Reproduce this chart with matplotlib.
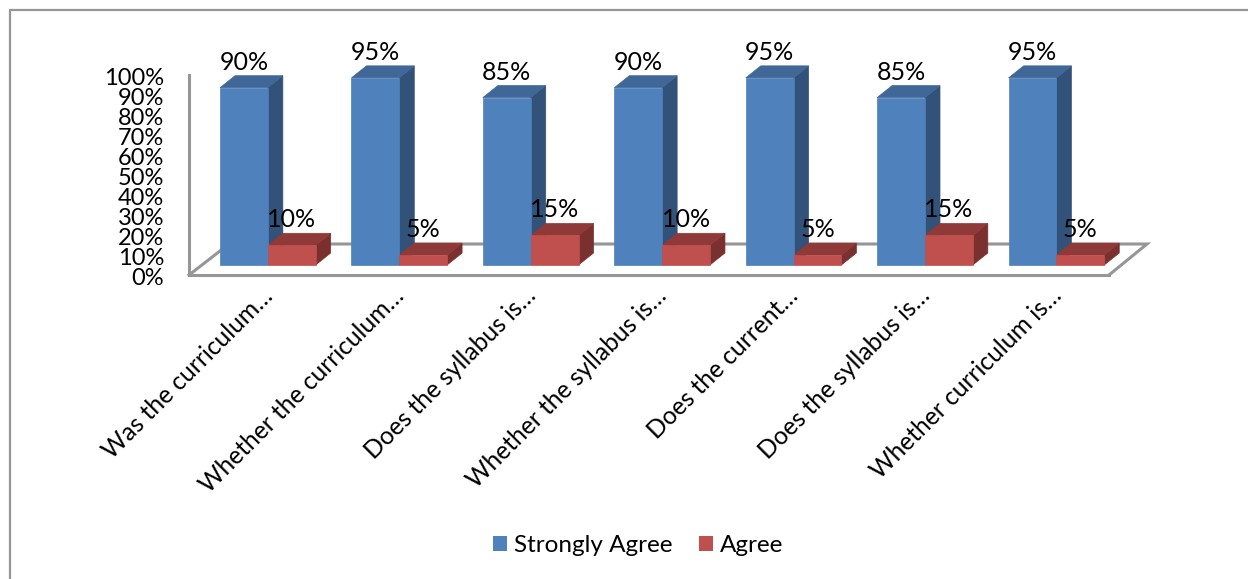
import matplotlib

matplotlib.use("Agg")
import matplotlib.pyplot as plt
from matplotlib.lines import Line2D
from matplotlib.patches import Polygon, Patch
from matplotlib.transforms import ScaledTranslation

categories = [
    "Was the curriculum…",
    "Whether the curriculum…",
    "Does the syllabus is…",
    "Whether the syllabus is…",
    "Does the current…",
    "Does the syllabus is…",
    "Whether curriculum is…",
]
strongly_agree = [90, 95, 85, 90, 95, 85, 95]
agree = [10, 5, 15, 10, 5, 15, 5]
y_ticks = list(range(0, 101, 10))

W, H = 1248, 579
plt.rcParams["font.family"] = ["Lato", "DejaVu Sans"]

fig = plt.figure(figsize=(W / 100, H / 100), dpi=100)
# axes box is the front edge of the chart floor
ax = fig.add_axes([189 / W, 1 - 275 / H, 920 / W, 200 / H])
ax.set_xlim(-0.5, 6.5)
ax.set_ylim(0, 100)
ax.patch.set_alpha(0)
for s in ax.spines.values():
    s.set_visible(False)

# fake 3d depth, in data units
dx = 15 / 131.4
dy = 6
base = 5
bar_w = 47.8 / 131.4
shift = 0.1
# bars sit on a slightly shorter scale than the front axis
bar_scale = 0.985
grey = "#969696"

# floor and wall lines
floor_kw = dict(color=grey, lw=2.2, clip_on=False, zorder=1, solid_joinstyle="miter")
ax.plot([-0.5, -0.5], [0, 100], **floor_kw)
ax.plot([-0.5, 6.5], [0, 0], **floor_kw)
ax.plot([-0.5, -0.5 + 40 / 131.4, 6.5 + 38 / 131.4, 6.5],
        [0, 15.5, 15.5, 0], **floor_kw)


def bar3d(x, val, front, top, side, label):
    y0, y1 = base, base + val * bar_scale
    x1 = x + bar_w
    ax.add_patch(Polygon([(x1, y0), (x1 + dx, y0 + dy), (x1 + dx, y1 + dy), (x1, y1)],
                         fc=side, ec=side, lw=0.5, clip_on=False, zorder=3))
    ax.add_patch(Polygon([(x, y1), (x + dx, y1 + dy), (x1 + dx, y1 + dy), (x1, y1)],
                         fc=top, ec=top, lw=0.5, clip_on=False, zorder=3))
    ax.add_patch(Polygon([(x, y0), (x1, y0), (x1, y1), (x, y1)],
                         fc=front, ec=front, lw=0.5, clip_on=False, zorder=4))
    ax.text(x + bar_w / 2, y1 + dy + 1, label, ha="center", va="bottom",
            fontsize=18, color="black", zorder=6, clip_on=False)


for i in range(len(categories)):
    left = i + shift - bar_w
    bar3d(left, strongly_agree[i], "#4F81BD", "#3F6797", "#335279", f"{strongly_agree[i]}%")
    bar3d(left + bar_w, agree[i], "#C0504D", "#8F3A38", "#7A302E", f"{agree[i]}%")

ax.set_yticks(y_ticks)
ax.set_yticklabels([f"{v}%" for v in y_ticks], fontsize=17)
ax.set_xticks(range(len(categories)))
ax.set_xticklabels(categories, rotation=45, ha="right", rotation_mode="anchor", fontsize=17.7)
ax.tick_params(axis="both", length=0)
ax.tick_params(axis="y", pad=18)
offset = ScaledTranslation(6 / 100, -4 / 100, fig.dpi_scale_trans)
for t in ax.get_xticklabels():
    t.set_transform(t.get_transform() + offset)
y_offset = ScaledTranslation(0, -1.5 / 100, fig.dpi_scale_trans)
for t in ax.get_yticklabels():
    t.set_transform(t.get_transform() + y_offset)

handles = [Patch(fc="#4F81BD", label="Strongly Agree"), Patch(fc="#C0504D", label="Agree")]
fig.legend(handles=handles, loc="center", bbox_to_anchor=(638 / W, 1 - 546 / H), ncol=2,
           frameon=False, fontsize=17.5, handlelength=0.58, handleheight=0.58,
           handletextpad=0.29, columnspacing=1.1)

# chart frame
fig.add_artist(Line2D([10 / W, 10 / W, 1], [0, 1 - 9.5 / H, 1 - 9.5 / H], color=grey, lw=1.6))

fig.savefig("out.png", dpi=100)
